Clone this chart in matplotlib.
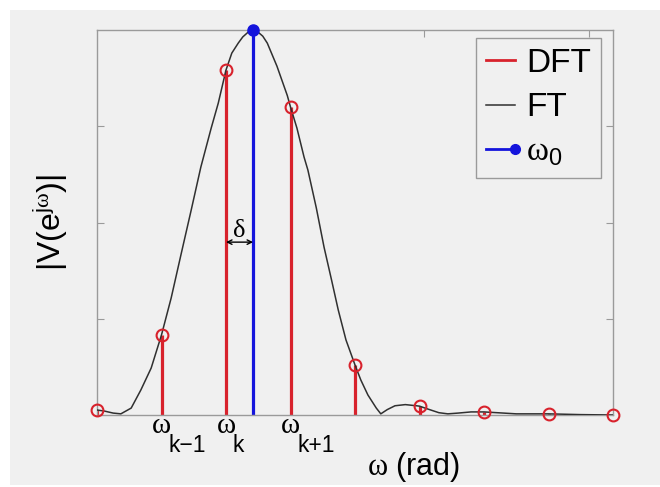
import numpy as np
import matplotlib
matplotlib.use("Agg")
import matplotlib.pyplot as plt
from matplotlib.lines import Line2D
from matplotlib.patches import Rectangle
from matplotlib.legend_handler import HandlerBase

plt.rcParams["font.family"] = ["Liberation Sans", "DejaVu Sans"]
plt.rcParams["mathtext.fontset"] = "custom"
plt.rcParams["mathtext.rm"] = "Liberation Sans"
plt.rcParams["mathtext.it"] = "Liberation Sans:italic"
plt.rcParams["mathtext.sf"] = "Liberation Serif"

# DFT bins (bin index) and magnitudes
dft_bins = [0, 1, 2, 3, 4, 5, 6, 7, 8]
dft_mag = [0.013, 0.208, 0.896, 0.80, 0.13, 0.023, 0.008, 0.003, 0.0]

# FT curve
ft_w = [0.0, 0.12, 0.25, 0.37, 0.53, 0.68, 0.84, 1.0, 1.15, 1.30, 1.46,
        1.61, 1.77, 1.88, 2.0, 2.09, 2.19, 2.26, 2.36, 2.42, 2.48, 2.57,
        2.64, 2.79, 2.95, 3.0, 3.10, 3.21, 3.27, 3.40, 3.52, 3.64, 3.74,
        3.86, 4.0, 4.09, 4.20, 4.33, 4.40, 4.50, 4.62, 4.78, 4.95, 5.0,
        5.12, 5.30, 5.44, 5.60, 5.80, 6.0, 6.20, 6.5, 7.0, 7.5, 8.0]
ft_mag = [0.013, 0.010, 0.005, 0.003, 0.018, 0.065, 0.122, 0.208, 0.304,
          0.415, 0.532, 0.644, 0.745, 0.81, 0.896, 0.94, 0.966, 0.982,
          0.997, 1.0, 0.997, 0.984, 0.966, 0.906, 0.83, 0.80, 0.745, 0.67,
          0.636, 0.538, 0.436, 0.348, 0.273, 0.195, 0.13, 0.091, 0.052,
          0.018, 0.003, 0.014, 0.024, 0.027, 0.024, 0.023, 0.016, 0.006,
          0.003, 0.005, 0.008, 0.008, 0.006, 0.003, 0.003, 0.001, 0.0]

# true frequency
w0 = 2.42
w0_mag = 1.0

bin_labels = {1: "k\u22121", 2: "k", 3: "k+1"}

red = "#d8222c"
blue = "#1414dc"
bg = "#f0f0f0"

fig = plt.figure(figsize=(6.6, 4.87), dpi=100, facecolor="white")
fig.patches.append(Rectangle((10 / 660, 2 / 487), 1, 1 - 12 / 487,
                             transform=fig.transFigure, facecolor=bg,
                             edgecolor="none", zorder=-10))
ax = fig.add_axes([97 / 660, 72 / 487, 516 / 660, 385 / 487])
ax.set_facecolor(bg)

# FT
ax.plot(ft_w, ft_mag, color="#303030", lw=1.1, zorder=3)

# DFT stems
ax.vlines(dft_bins, 0, dft_mag, color=red, lw=2.3, zorder=2)
ax.plot(dft_bins, dft_mag, "o", ms=8.5, mfc="none", mec=red, mew=1.5,
        zorder=4, clip_on=False)

# omega_0 stem
ax.vlines([w0], 0, [w0_mag], color=blue, lw=2.3, zorder=2)
ax.plot([w0], [w0_mag], "o", ms=8, color=blue, zorder=5, clip_on=False)

ax.set_xlim(0, 8)
ax.set_ylim(0, 1)

for s in ax.spines.values():
    s.set_color("#9a9a9a")
    s.set_linewidth(1.0)

ax.set_yticks([0.25, 0.5, 0.75])
ax.set_yticklabels([])
ax.set_xticks([5.07, 7.63])
ax.set_xticklabels([])
ax.tick_params(axis="y", direction="in", left=True, right=True, length=5,
               color="#9a9a9a")
ax.tick_params(axis="x", direction="in", top=True, bottom=False, length=5,
               color="#9a9a9a")

# bin labels under the axis
for b, sub in bin_labels.items():
    ax.annotate("\u03c9", xy=(b, 0), xycoords=("data", "axes fraction"),
                xytext=(0, -18 * 0.72), textcoords="offset points",
                ha="center", va="baseline", fontsize=21,
                family="Liberation Serif")
    ax.annotate(sub, xy=(b, 0), xycoords=("data", "axes fraction"),
                xytext=(7 * 0.72, -37 * 0.72), textcoords="offset points",
                ha="left", va="baseline", fontsize=16.5)

# delta marker between omega_k and omega_0
ax.annotate("", xy=(2, 0.449), xytext=(w0, 0.449),
            arrowprops=dict(arrowstyle="<->", color="black", lw=1.0,
                            shrinkA=0, shrinkB=0, mutation_scale=8))
ax.text((2 + w0) / 2, 0.462, "\u03b4", ha="center", va="baseline",
        fontsize=19, family="Liberation Serif")

ax.text(-0.09, 0.5, "|V(e$^{\\mathrm{j}\\mathsf{\\omega}}$)|",
        transform=ax.transAxes, rotation=90, ha="center", va="center",
        fontsize=23)
ax.text(0.614, -0.155, "$\\mathsf{\\omega}$ (rad)", transform=ax.transAxes,
        ha="center", va="baseline", fontsize=22)


class DotEnd(HandlerBase):
    def create_artists(self, legend, orig_handle, xdescent, ydescent,
                       width, height, fontsize, trans):
        y = height / 2 - ydescent
        ln = Line2D([-xdescent, width - xdescent], [y, y], color=blue, lw=2)
        dot = Line2D([width - xdescent], [y], marker="o", color=blue, ms=7)
        ln.set_transform(trans)
        dot.set_transform(trans)
        return [ln, dot]


h_dft = Line2D([], [], color=red, lw=2)
h_ft = Line2D([], [], color="#303030", lw=1.1)
h_w0 = Line2D([], [], color=blue)
leg = ax.legend([h_dft, h_ft, h_w0],
                ["DFT", "FT", "$\\mathsf{\\omega}_{\\mathrm{0}}$"],
                handler_map={h_w0: DotEnd()},
                loc="upper right", bbox_to_anchor=(0.977, 0.979),
                fontsize=24, handlelength=0.85, handletextpad=0.35,
                labelspacing=0.4, borderpad=0.3, borderaxespad=0,
                fancybox=False, framealpha=1, facecolor=bg,
                edgecolor="#9a9a9a")
leg.get_frame().set_linewidth(1.0)

fig.savefig("out.png", dpi=100, facecolor=fig.get_facecolor())
